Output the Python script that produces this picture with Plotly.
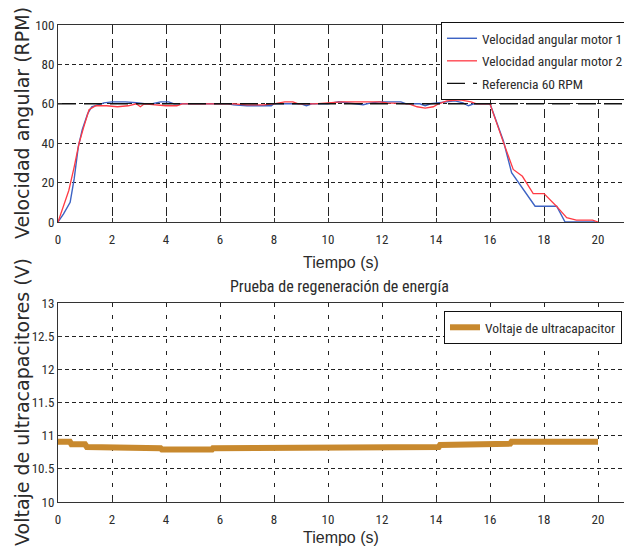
import plotly.graph_objects as go

# Angular speed of both motors (RPM) over time (s)
t_motor1 = [0, 0.2, 0.45, 0.6, 0.75, 0.9, 1.1, 1.25, 1.5, 1.7, 2.0, 2.5, 2.9, 3.2, 3.5, 3.8, 4.1, 4.3,
            5.0, 6.3, 6.5, 7.0, 7.5, 7.9, 8.0, 8.5, 9.0, 9.2, 9.4, 10.0, 10.4, 11.0, 11.3, 11.6, 11.9,
            12.7, 12.9, 13.4, 13.6, 13.8, 14.3, 14.7, 15.0, 15.2, 15.4, 16.0, 16.5, 16.8, 17.67, 18.47,
            18.78, 19.9]
v_motor1 = [0, 4, 10, 22, 38, 47, 55, 58.5, 59.5, 60.5, 61, 61, 60.5, 60, 60, 61, 61, 60,
            60, 60, 59.5, 59, 59, 59, 60, 60, 60, 59, 60, 60, 61, 60, 59.5, 60.5, 61,
            61, 60, 60, 59, 60, 61, 61.5, 60.5, 59, 60, 60, 41, 25, 8, 8,
            0, 0]

t_motor2 = [0, 0.2, 0.4, 0.6, 0.78, 0.95, 1.15, 1.4, 1.8, 2.2, 2.6, 2.9, 3.05, 3.2, 4.0, 4.4, 4.6,
            5.6, 6.5, 7.0, 7.6, 8.0, 8.4, 8.7, 8.9, 9.5, 10.3, 10.5, 11.9, 12.2, 13.0, 13.3, 13.6,
            13.9, 14.1, 14.4, 14.9, 15.3, 15.5, 16.0, 16.5, 16.86, 17.2, 17.6, 18.0, 18.47, 18.84,
            19.2, 19.8, 20.0]
v_motor2 = [0, 8, 16, 28, 40, 48, 57, 59, 59, 58.5, 59, 60, 58.5, 60, 59, 59, 60,
            60, 60, 59.5, 59.5, 60, 61, 61, 60, 60, 60.5, 61, 61, 60.5, 60, 58.5, 57.8,
            58.5, 60, 61.5, 62, 61, 60, 60, 40.3, 26.7, 23.2, 14.4, 14.4, 7.9, 2.2,
            1, 1, 0]

t_reference = [0, 21]
v_reference = [60, 60]

# Ultracapacitor bank voltage (V) during the regeneration test
t_voltage = [0, 0.44, 0.5, 1.0, 1.07, 2.45, 2.5, 3.8, 3.85, 4.35, 4.4, 5.3, 5.37, 5.7, 5.74, 6.3,
             6.37, 8.85, 8.9, 12.7, 12.75, 14.1, 14.15, 15.8, 15.85, 16.75, 16.8, 20.0]
v_voltage = [10.91, 10.91, 10.87, 10.87, 10.83, 10.83, 10.81, 10.81, 10.79, 10.79, 10.77, 10.77,
             10.79, 10.79, 10.81, 10.81, 10.83, 10.83, 10.81, 10.81, 10.83, 10.83, 10.86, 10.86,
             10.88, 10.88, 10.91, 10.91]

x_ticks = list(range(0, 21, 2))
speed_ticks = [0, 20, 40, 60, 80, 100]
volt_ticks = [10, 10.5, 11, 11.5, 12, 12.5, 13]

W, H = 624, 548
NARROW = "Roboto Condensed, Liberation Sans Narrow, Liberation Sans, Arial"
SANS = "Liberation Sans, Arial, sans-serif"
WIDE = "DejaVu Sans, Verdana, sans-serif"
TXT = "#2b2b2b"


def px(x):
    return x / W


def py(y):
    return 1 - y / H


fig = go.Figure()

fig.add_trace(go.Scatter(x=t_motor1, y=v_motor1, mode="lines", name="Velocidad angular motor 1",
                         line=dict(color="#3d63c4", width=1.4), xaxis="x", yaxis="y",
                         legend="legend", legendgroup="m1"))
fig.add_trace(go.Scatter(x=t_motor2, y=v_motor2, mode="lines", name="Velocidad angular motor 2",
                         line=dict(color="#ff3a44", width=1.3), xaxis="x", yaxis="y",
                         legend="legend", legendgroup="m2"))
fig.add_trace(go.Scatter(x=t_reference, y=v_reference, mode="lines", name="Referencia 60 RPM",
                         line=dict(color="#111111", width=1.4, dash="18px,8px"),
                         xaxis="x", yaxis="y", legend="legend", legendgroup="ref"))
fig.add_trace(go.Scatter(x=t_voltage, y=v_voltage, mode="lines", name="Voltaje de ultracapacitor",
                         line=dict(color="#c8892e", width=6), xaxis="x2", yaxis="y2", legend="legend2"))

x_range = [0, (W - 58) / 27]
x_dom = [px(58), 1.0]

common_x = dict(range=x_range, domain=x_dom, tickvals=x_ticks, ticks="inside", ticklen=4,
                tickcolor="#333", showline=True, linecolor="#333", linewidth=1, mirror=True,
                showgrid=True, gridcolor="#222", gridwidth=1, zeroline=False,
                tickfont=dict(family=NARROW, size=13, color=TXT), ticklabelstandoff=5)
common_y = dict(ticks="inside", ticklen=4, tickcolor="#333", showline=True, linecolor="#333",
                linewidth=1, mirror=False, showgrid=True, gridcolor="#222", gridwidth=1,
                griddash="4px,3px", zeroline=False,
                tickfont=dict(family=NARROW, size=13, color=TXT))

fig.update_layout(
    width=W, height=H,
    margin=dict(l=0, r=0, t=0, b=0, autoexpand=False),
    paper_bgcolor="white", plot_bgcolor="white",
    xaxis=dict(common_x, anchor="y", griddash="9px,5px"),
    yaxis=dict(common_y, range=[0, 100], domain=[py(222), py(25)], tickvals=speed_ticks, anchor="x"),
    xaxis2=dict(common_x, anchor="y2", griddash="4px,8px"),
    yaxis2=dict(common_y, range=[10, 13], domain=[py(502), py(303)], tickvals=volt_ticks, anchor="x2"),
    legend=dict(x=px(441), y=py(22), xanchor="left", yanchor="top", bgcolor="white",
                bordercolor="#111", borderwidth=1, font=dict(family=NARROW, size=13.5, color=TXT),
                itemwidth=30, tracegroupgap=2, traceorder="grouped"),
    legend2=dict(x=px(444), y=py(311), xanchor="left", yanchor="top", bgcolor="white",
                 bordercolor="#111", borderwidth=1, font=dict(family=NARROW, size=13.5, color=TXT),
                 itemwidth=30),
    showlegend=True,
)

annotations = [
    dict(text="Velocidad angular (RPM)", x=px(22), y=py(123), textangle=-90,
         font=dict(family=WIDE, size=19, color=TXT)),
    dict(text="Voltaje de ultracapacitores (V)", x=px(22), y=py(402), textangle=-90,
         font=dict(family=WIDE, size=19, color=TXT)),
    dict(text="Tiempo (s)", x=px(341), y=py(262), font=dict(family=SANS, size=16, color=TXT)),
    dict(text="Tiempo (s)", x=px(341), y=py(537), font=dict(family=SANS, size=16, color=TXT)),
    dict(text="Prueba de regeneración de energía", x=px(340), y=py(286),
         font=dict(family=NARROW, size=16, color=TXT)),
]
for a in annotations:
    a.update(xref="paper", yref="paper", showarrow=False, xanchor="center", yanchor="middle")
fig.update_layout(annotations=annotations)

fig.write_html("out.html")
